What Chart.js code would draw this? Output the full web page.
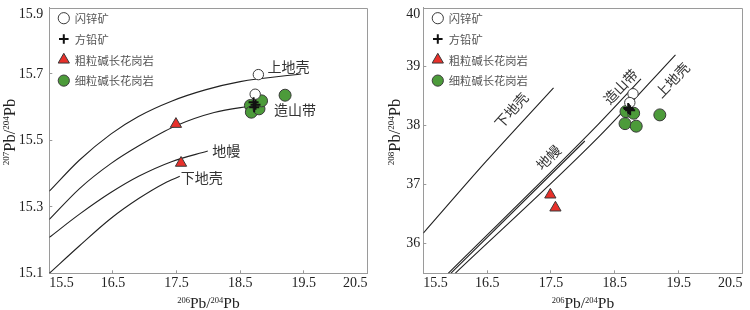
<!DOCTYPE html>
<html><head><meta charset="utf-8">
<script src="https://cdn.jsdelivr.net/npm/chart.js@4/dist/chart.umd.min.js"></script>
<style>
html,body{margin:0;padding:0;background:#fff;}
#wrap{position:relative;width:750px;height:310px;overflow:hidden;}
canvas{position:absolute;top:0;}
#c1{left:0;} #c2{left:375px;}
</style></head><body>
<div id="wrap"><canvas id="c1" width="375" height="310"></canvas><canvas id="c2" width="375" height="310"></canvas></div>
<script>
// ---------- tick labels ----------
const xTicks = [15.5, 16.5, 17.5, 18.5, 19.5, 20.5];
const y207Ticks = [15.1, 15.3, 15.5, 15.7, 15.9];
const y208Ticks = [36, 37, 38, 39, 40];

// ---------- legend / series names ----------
const seriesNames = ['闪锌矿', '方铅矿', '粗粒碱长花岗岩', '细粒碱长花岗岩'];

// ---------- samples ----------
const sphalerite206 = [18.785, 18.735];
const sphalerite207 = [15.698, 15.639];
const sphalerite208 = [38.54, 38.39];

const galena206 = [18.71, 18.74, 18.72];
const galena207 = [15.615, 15.607, 15.600];
const galena208 = [38.30, 38.26, 38.28];

const coarse206 = [17.49, 17.57];
const coarse207 = [15.549, 15.432];
const coarse208 = [36.83, 36.61];

const fine206 = [18.66, 18.675, 18.795, 18.835, 19.205];
const fine207 = [15.605, 15.585, 15.595, 15.619, 15.636];
const fine208 = [38.034, 38.238, 38.21, 37.991, 38.182];

// ---------- model curves, 207Pb/204Pb ----------
const upperCrustX207 = [15.5, 15.975, 16.466, 16.90, 17.42, 17.95, 18.50, 19.458];
const upperCrustY207 = [15.347, 15.441, 15.519, 15.572, 15.618, 15.652, 15.677, 15.700];
const orogenX207 = [15.5, 15.975, 16.466, 16.90, 17.49, 18.09, 18.71];
const orogenY207 = [15.262, 15.355, 15.430, 15.483, 15.544, 15.584, 15.605];
const mantleX207 = [15.5, 15.975, 16.466, 16.904, 17.42, 17.99];
const mantleY207 = [15.208, 15.278, 15.343, 15.392, 15.436, 15.468];
const lowerCrustX207 = [15.5, 15.975, 16.466, 16.904, 17.317, 17.55];
const lowerCrustY207 = [15.100, 15.183, 15.265, 15.325, 15.372, 15.392];

// ---------- model curves, 208Pb/204Pb ----------
const lowerCrustX208 = [15.5, 16.48, 17.54];
const lowerCrustY208 = [36.18, 37.39, 38.64];
const orogenX208 = [15.89, 18.24, 18.91];
const orogenY208 = [35.50, 38.02, 38.79];
const mantleX208 = [15.93, 18.03];
const mantleY208 = [35.50, 37.74];
const upperCrustX208 = [16.00, 18.24, 19.45];
const upperCrustY208 = [35.50, 37.80, 39.20];

// ---------- curve labels ----------
const curveNames = ['上地壳', '造山带', '地幔', '下地壳'];
const labelX207 = [19.26, 19.36, 18.28, 17.895];
const labelY207 = [15.721, 15.592, 15.468, 15.387];
const labelX208 = [19.40, 18.59, 17.46, 16.88];
const labelY208 = [38.77, 38.66, 37.46, 38.26];
const labelRot208 = [-46, -46, -45, -48];

// ---------- axis titles ----------
const xTitleParts = [['206', 1], ['Pb/', 0], ['204', 1], ['Pb', 0]];
const y207TitleParts = [['207', 1], ['Pb/', 0], ['204', 1], ['Pb', 0]];
const y208TitleParts = [['208', 1], ['Pb/', 0], ['204', 1], ['Pb', 0]];

const SERIF = '"Liberation Serif","Times New Roman",serif';
const CJK = '"Noto Sans CJK SC","Noto Sans CJK JP",sans-serif';
const AXIS = '#9a9a9a';
Chart.defaults.font.family = SERIF;

const pts = (xs, ys) => xs.map((x, i) => ({x, y: ys[i]}));

function sampleSets(ys) {
  return [
    {label: seriesNames[0], data: pts(sphalerite206, ys.sph), pointStyle: 'circle', pointRadius: 5.2,
     backgroundColor: '#ffffff', borderColor: '#3a3a3a', borderWidth: 1, order: 1},
    {label: seriesNames[1], data: pts(galena206, ys.gal), pointStyle: 'cross', pointRadius: 5,
     backgroundColor: '#111', borderColor: '#111', borderWidth: 2, order: 0},
    {label: seriesNames[2], data: pts(coarse206, ys.coarse), pointStyle: 'triangle', pointRadius: 6.5,
     backgroundColor: '#e8302a', borderColor: '#3a3a3a', borderWidth: 1, order: 2},
    {label: seriesNames[3], data: pts(fine206, ys.fine), pointStyle: 'circle', pointRadius: 6,
     backgroundColor: '#4c9b3a', borderColor: '#3a3a3a', borderWidth: 1, order: 3}
  ];
}
function curveSet(name, xs, ys) {
  return {label: name, data: pts(xs, ys), showLine: true, pointRadius: 0, borderColor: '#222',
    borderWidth: 1.1, fill: false, cubicInterpolationMode: 'monotone', order: 10};
}

function drawParts(ctx, parts, big, small, rise) {
  let w = 0;
  parts.forEach(p => { ctx.font = (p[1] ? small : big) + 'px ' + SERIF; w += ctx.measureText(p[0]).width; });
  let cx = -w / 2;
  ctx.textAlign = 'left';
  ctx.textBaseline = 'alphabetic';
  parts.forEach(p => {
    ctx.font = (p[1] ? small : big) + 'px ' + SERIF;
    ctx.fillText(p[0], cx, p[1] ? -rise : 0);
    cx += ctx.measureText(p[0]).width;
  });
}

function drawMarker(ctx, ds, x, y) {
  ctx.save();
  ctx.fillStyle = ds.backgroundColor;
  ctx.strokeStyle = ds.borderColor;
  ctx.lineWidth = ds.borderWidth;
  const r = ds.pointStyle === 'triangle' ? 6.5 : (ds.pointStyle === 'cross' ? 4.8 : 5.6);
  if (Chart.helpers && Chart.helpers.drawPoint) {
    Chart.helpers.drawPoint(ctx, {pointStyle: ds.pointStyle, radius: r, rotation: 0, borderWidth: ds.borderWidth}, x, y);
  }
  ctx.restore();
}

function decorPlugin(o) {
  return {
    id: 'decor',
    afterDraw(chart) {
      const ctx = chart.ctx, ca = chart.chartArea;
      const xs = chart.scales.x, ys = chart.scales.y;
      ctx.save();
      // frame top & right
      ctx.strokeStyle = AXIS; ctx.lineWidth = 1;
      const L = Math.round(ca.left) + 0.5, R = Math.round(ca.right) - 0.5;
      const T = Math.round(ca.top) + 0.5, B = Math.round(ca.bottom) - 0.5;
      ctx.beginPath(); ctx.moveTo(L, T); ctx.lineTo(R, T); ctx.lineTo(R, B); ctx.stroke();
      // top y tick label (kept inside like the reference)
      ctx.fillStyle = '#222';
      ctx.font = '14px ' + SERIF;
      ctx.textAlign = 'right'; ctx.textBaseline = 'middle';
      ctx.fillText(o.fmt(o.yMax), ca.left - o.yGap, ca.top + 6.5);
      // legend
      seriesNames.forEach((name, i) => {
        const ds = chart.data.datasets.find(d => d.label === name);
        const y = ca.top + 10.7 + i * 20.8;
        drawMarker(ctx, ds, ca.left + 14.5, y);
        ctx.fillStyle = '#555';
        ctx.font = '11.3px ' + CJK;
        ctx.textAlign = 'left'; ctx.textBaseline = 'middle';
        ctx.fillText(name, ca.left + 25.5, y + 0.5);
      });
      // curve labels
      ctx.fillStyle = '#333';
      ctx.font = '14px ' + CJK;
      ctx.textAlign = 'center'; ctx.textBaseline = 'middle';
      curveNames.forEach((name, i) => {
        const px = xs.getPixelForValue(o.labelX[i]);
        const py = ys.getPixelForValue(o.labelY[i]);
        ctx.save();
        ctx.translate(px, py);
        if (o.labelRot) ctx.rotate(o.labelRot[i] * Math.PI / 180);
        ctx.fillText(name, 0, 0);
        ctx.restore();
      });
      // axis titles
      ctx.fillStyle = '#222';
      ctx.save();
      ctx.translate((ca.left + ca.right) / 2, 308);
      drawParts(ctx, xTitleParts, 15.5, 8.5, 5.5);
      ctx.restore();
      ctx.save();
      ctx.translate(o.yTitleX, 132);
      ctx.rotate(-Math.PI / 2);
      drawParts(ctx, o.yTitleParts, 16.5, 9, 6);
      ctx.restore();
      ctx.restore();
    }
  };
}

function buildChart(id, o) {
  return new Chart(document.getElementById(id), {
    type: 'scatter',
    data: {datasets: o.datasets},
    options: {
      responsive: false, animation: false, devicePixelRatio: 1,
      layout: {padding: {left: 0, right: o.padRight, top: 1, bottom: 0}},
      plugins: {legend: {display: false}, tooltip: {enabled: false}, title: {display: false}},
      scales: {
        x: {
          type: 'linear', position: 'bottom', min: 15.5, max: 20.5,
          afterBuildTicks: s => { s.ticks = xTicks.map(v => ({value: v})); },
          afterFit: s => { s.height = 36.7; s.paddingLeft = 0; s.paddingRight = 0; },
          ticks: {align: 'inner', padding: 5, color: '#222', font: {family: SERIF, size: 14},
                  autoSkip: false, maxRotation: 0, callback: v => Number(v).toFixed(1)},
          grid: {display: true, drawOnChartArea: false, drawTicks: true, tickLength: -3, color: AXIS, lineWidth: 1},
          border: {display: true, color: AXIS, width: 1},
          title: {display: false}
        },
        y: {
          type: 'linear', position: 'left', min: o.yMin, max: o.yMax,
          afterBuildTicks: s => { s.ticks = o.yTicks.map(v => ({value: v})); },
          afterFit: s => { s.width = o.yWidth; s.paddingTop = 0; s.paddingBottom = 0; },
          ticks: {padding: o.yGap + 3, color: '#222', font: {family: SERIF, size: 14}, autoSkip: false,
                  callback: v => (Math.abs(v - o.yMax) < 1e-9 ? null : o.fmt(v))},
          grid: {display: true, drawOnChartArea: false, drawTicks: true, tickLength: -3, color: AXIS, lineWidth: 1},
          border: {display: true, color: AXIS, width: 1},
          title: {display: false}
        }
      }
    },
    plugins: [decorPlugin(o)]
  });
}

const left = {
  datasets: sampleSets({sph: sphalerite207, gal: galena207, coarse: coarse207, fine: fine207}).concat([
    curveSet(curveNames[0], upperCrustX207, upperCrustY207),
    curveSet(curveNames[1], orogenX207, orogenY207),
    curveSet(curveNames[2], mantleX207, mantleY207),
    curveSet(curveNames[3], lowerCrustX207, lowerCrustY207)
  ]),
  yMin: 15.1, yMax: 15.9, yTicks: y207Ticks, fmt: v => Number(v).toFixed(1),
  yWidth: 49.3, padRight: 3.5, yGap: 6, yTitleX: 15,
  labelX: labelX207, labelY: labelY207, labelRot: null, yTitleParts: y207TitleParts
};
const right = {
  datasets: sampleSets({sph: sphalerite208, gal: galena208, coarse: coarse208, fine: fine208}).concat([
    curveSet(curveNames[0], upperCrustX208, upperCrustY208),
    curveSet(curveNames[1], orogenX208, orogenY208),
    curveSet(curveNames[2], mantleX208, mantleY208),
    curveSet(curveNames[3], lowerCrustX208, lowerCrustY208)
  ]),
  yMin: 35.5, yMax: 40, yTicks: y208Ticks, fmt: v => String(Math.round(v)),
  yWidth: 48.3, padRight: 4, yGap: 3, yTitleX: 25,
  labelX: labelX208, labelY: labelY208, labelRot: labelRot208, yTitleParts: y208TitleParts
};
buildChart('c1', left);
buildChart('c2', right);
</script>
</body></html>
